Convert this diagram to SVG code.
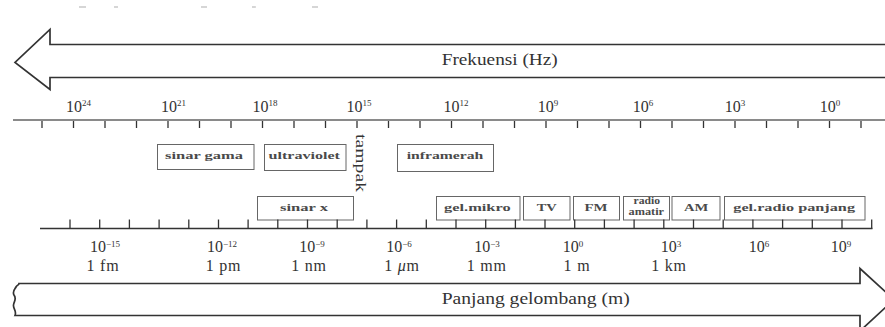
<svg xmlns="http://www.w3.org/2000/svg" width="885" height="327" viewBox="0 0 885 327" font-family="'Liberation Serif', 'Times New Roman', serif">
  <style>
    text { font-family: 'Liberation Serif', 'Times New Roman', serif; }
    .lbl { fill: #333; }
    .num { font-size: 16px; text-anchor: middle; }
    .sup { font-size: 9px; }
    .unit { font-size: 16px; text-anchor: middle; letter-spacing: 0.8px; }
    .title { font-size: 16px; }
    .boxt { font-size: 11px; font-weight: bold; fill: #4a4a4a; }
    .box { fill: #fff; stroke: #666; stroke-width: 1; }
    .arrow { fill: #fff; stroke: #333; stroke-width: 1.7; stroke-linejoin: miter; }
    .axis { stroke: #8a8a8a; stroke-width: 2; }
    .axis2 { stroke: #333; stroke-width: 1.6; }
    .tick { stroke: #333; stroke-width: 1.3; }
    .dash { stroke: #bbb; stroke-width: 1.2; }
  </style>

  <rect width="885" height="327" fill="#fff"/>

  <!-- faint remnants of a line of text above -->
  <g id="remnants">
    <line class="dash" x1="79" y1="7" x2="86" y2="7"/>
    <line class="dash" x1="114" y1="7" x2="118" y2="7"/>
    <line class="dash" x1="201" y1="7" x2="207" y2="7"/>
    <line class="dash" x1="252" y1="7" x2="256" y2="7"/>
    <line class="dash" x1="312" y1="7" x2="318" y2="7"/>
  </g>

  <!-- frequency arrow (pointing left) -->
  <g id="freq-arrow">
    <path class="arrow" d="M900,44.5 L50,44.5 L50,29.5 L15,62.5 L50,89.5 L50,77.5 L900,77.5"/>
    <text class="lbl title" x="441.7" y="65" textLength="116" lengthAdjust="spacingAndGlyphs">Frekuensi (Hz)</text>
  </g>

  <!-- frequency scale -->
  <g id="freq-scale">
    <line class="axis" x1="13" y1="120" x2="885" y2="120"/>
    <g id="freq-ticks">
      <line class="tick" x1="42" y1="121" x2="42" y2="128"/>
      <line class="tick" x1="73.5" y1="121" x2="73.5" y2="128"/>
      <line class="tick" x1="105" y1="121" x2="105" y2="128"/>
      <line class="tick" x1="136.5" y1="121" x2="136.5" y2="128"/>
      <line class="tick" x1="168" y1="121" x2="168" y2="128"/>
      <line class="tick" x1="199.5" y1="121" x2="199.5" y2="128"/>
      <line class="tick" x1="231" y1="121" x2="231" y2="128"/>
      <line class="tick" x1="262.5" y1="121" x2="262.5" y2="128"/>
      <line class="tick" x1="294" y1="121" x2="294" y2="128"/>
      <line class="tick" x1="325.5" y1="121" x2="325.5" y2="128"/>
      <line class="tick" x1="357" y1="121" x2="357" y2="128"/>
      <line class="tick" x1="388.5" y1="121" x2="388.5" y2="128"/>
      <line class="tick" x1="420" y1="121" x2="420" y2="128"/>
      <line class="tick" x1="451.5" y1="121" x2="451.5" y2="128"/>
      <line class="tick" x1="483" y1="121" x2="483" y2="128"/>
      <line class="tick" x1="514.5" y1="121" x2="514.5" y2="128"/>
      <line class="tick" x1="546" y1="121" x2="546" y2="128"/>
      <line class="tick" x1="577.5" y1="121" x2="577.5" y2="128"/>
      <line class="tick" x1="609" y1="121" x2="609" y2="128"/>
      <line class="tick" x1="640.5" y1="121" x2="640.5" y2="128"/>
      <line class="tick" x1="672" y1="121" x2="672" y2="128"/>
      <line class="tick" x1="703.5" y1="121" x2="703.5" y2="128"/>
      <line class="tick" x1="735" y1="121" x2="735" y2="128"/>
      <line class="tick" x1="766.5" y1="121" x2="766.5" y2="128"/>
      <line class="tick" x1="798" y1="121" x2="798" y2="128"/>
      <line class="tick" x1="829.5" y1="121" x2="829.5" y2="128"/>
      <line class="tick" x1="861" y1="121" x2="861" y2="128"/>
    </g>
    <g id="freq-labels" class="lbl">
      <text class="num" x="78.5" y="111.5">10<tspan class="sup" dy="-5.5">24</tspan></text>
      <text class="num" x="173.5" y="111.5">10<tspan class="sup" dy="-5.5">21</tspan></text>
      <text class="num" x="265" y="111.5">10<tspan class="sup" dy="-5.5">18</tspan></text>
      <text class="num" x="359" y="111.5">10<tspan class="sup" dy="-5.5">15</tspan></text>
      <text class="num" x="456" y="111.5">10<tspan class="sup" dy="-5.5">12</tspan></text>
      <text class="num" x="548" y="111.5">10<tspan class="sup" dy="-5.5">9</tspan></text>
      <text class="num" x="643" y="111.5">10<tspan class="sup" dy="-5.5">6</tspan></text>
      <text class="num" x="735" y="111.5">10<tspan class="sup" dy="-5.5">3</tspan></text>
      <text class="num" x="830" y="111.5">10<tspan class="sup" dy="-5.5">0</tspan></text>
    </g>
  </g>

  <!-- upper band of spectrum regions -->
  <g id="sinar-gama">
    <rect class="box" x="157.5" y="144.5" width="96.5" height="25"/>
    <text class="boxt" x="165" y="159" textLength="78" lengthAdjust="spacingAndGlyphs">sinar  gama</text>
  </g>
  <g id="ultraviolet">
    <rect class="box" x="264.5" y="144.5" width="81.5" height="26"/>
    <text class="boxt" x="268.5" y="159" textLength="71.5" lengthAdjust="spacingAndGlyphs">ultraviolet</text>
  </g>
  <g id="tampak">
    <text class="lbl" font-size="15" transform="translate(355.5,134) rotate(90)" x="0" y="0" textLength="58" lengthAdjust="spacingAndGlyphs">tampak</text>
  </g>
  <g id="inframerah">
    <rect class="box" x="397.5" y="144.5" width="96" height="27"/>
    <text class="boxt" x="406.7" y="159" textLength="76.6" lengthAdjust="spacingAndGlyphs">inframerah</text>
  </g>

  <!-- lower band of spectrum regions -->
  <g id="sinar-x">
    <rect class="box" x="257.5" y="196.5" width="96" height="23.5"/>
    <text class="boxt" x="280" y="211" textLength="48" lengthAdjust="spacingAndGlyphs">sinar  x</text>
  </g>
  <g id="gel-mikro">
    <rect class="box" x="436.5" y="196.5" width="83.5" height="23.5"/>
    <text class="boxt" x="444" y="211" textLength="66.7" lengthAdjust="spacingAndGlyphs">gel.mikro</text>
  </g>
  <g id="tv">
    <rect class="box" x="523.5" y="196.5" width="46.5" height="23.5"/>
    <text class="boxt" x="536.7" y="211" textLength="20" lengthAdjust="spacingAndGlyphs">TV</text>
  </g>
  <g id="fm">
    <rect class="box" x="573.5" y="196.5" width="46" height="23.5"/>
    <text class="boxt" x="584.5" y="211" textLength="23" lengthAdjust="spacingAndGlyphs">FM</text>
  </g>
  <g id="radio-amatir">
    <rect class="box" x="623.5" y="196.5" width="46" height="23.5"/>
    <text class="boxt" font-size="8" x="633.5" y="203.5" textLength="26.5" lengthAdjust="spacingAndGlyphs">radio</text>
    <text class="boxt" font-size="8" x="628.5" y="214.5" textLength="35.5" lengthAdjust="spacingAndGlyphs">amatir</text>
  </g>
  <g id="am">
    <rect class="box" x="672" y="196.5" width="48" height="23.5"/>
    <text class="boxt" x="684" y="211" textLength="24.3" lengthAdjust="spacingAndGlyphs">AM</text>
  </g>
  <g id="gel-radio-panjang">
    <rect class="box" x="724.5" y="196.5" width="140.5" height="23.5"/>
    <text class="boxt" x="733.3" y="211" textLength="121.7" lengthAdjust="spacingAndGlyphs">gel.radio  panjang</text>
  </g>

  <!-- wavelength scale -->
  <g id="wave-scale">
    <line class="axis2" x1="40" y1="228.5" x2="872.5" y2="228.5"/>
    <g id="wave-ticks">
      <line class="tick" x1="70" y1="219.5" x2="70" y2="228.5"/>
      <line class="tick" x1="99.7" y1="219.5" x2="99.7" y2="228.5"/>
      <line class="tick" x1="129.4" y1="219.5" x2="129.4" y2="228.5"/>
      <line class="tick" x1="159.1" y1="219.5" x2="159.1" y2="228.5"/>
      <line class="tick" x1="188.8" y1="219.5" x2="188.8" y2="228.5"/>
      <line class="tick" x1="218.5" y1="219.5" x2="218.5" y2="228.5"/>
      <line class="tick" x1="248.1" y1="219.5" x2="248.1" y2="228.5"/>
      <line class="tick" x1="277.8" y1="219.5" x2="277.8" y2="228.5"/>
      <line class="tick" x1="307.5" y1="219.5" x2="307.5" y2="228.5"/>
      <line class="tick" x1="337.2" y1="219.5" x2="337.2" y2="228.5"/>
      <line class="tick" x1="366.9" y1="219.5" x2="366.9" y2="228.5"/>
      <line class="tick" x1="396.6" y1="219.5" x2="396.6" y2="228.5"/>
      <line class="tick" x1="426.3" y1="219.5" x2="426.3" y2="228.5"/>
      <line class="tick" x1="456" y1="219.5" x2="456" y2="228.5"/>
      <line class="tick" x1="485.7" y1="219.5" x2="485.7" y2="228.5"/>
      <line class="tick" x1="515.4" y1="219.5" x2="515.4" y2="228.5"/>
      <line class="tick" x1="545" y1="219.5" x2="545" y2="228.5"/>
      <line class="tick" x1="574.7" y1="219.5" x2="574.7" y2="228.5"/>
      <line class="tick" x1="604.4" y1="219.5" x2="604.4" y2="228.5"/>
      <line class="tick" x1="634.1" y1="219.5" x2="634.1" y2="228.5"/>
      <line class="tick" x1="663.8" y1="219.5" x2="663.8" y2="228.5"/>
      <line class="tick" x1="693.5" y1="219.5" x2="693.5" y2="228.5"/>
      <line class="tick" x1="723.2" y1="219.5" x2="723.2" y2="228.5"/>
      <line class="tick" x1="752.9" y1="219.5" x2="752.9" y2="228.5"/>
      <line class="tick" x1="782.6" y1="219.5" x2="782.6" y2="228.5"/>
      <line class="tick" x1="812.3" y1="219.5" x2="812.3" y2="228.5"/>
      <line class="tick" x1="842" y1="219.5" x2="842" y2="228.5"/>
      <line class="tick" x1="871.7" y1="219.5" x2="871.7" y2="228.5"/>
    </g>
    <g id="wave-labels" class="lbl">
      <text class="num" x="105" y="252">10<tspan class="sup" dy="-5.5">−15</tspan></text>
      <text class="num" x="222" y="252">10<tspan class="sup" dy="-5.5">−12</tspan></text>
      <text class="num" x="312" y="252">10<tspan class="sup" dy="-5.5">−9</tspan></text>
      <text class="num" x="399" y="252">10<tspan class="sup" dy="-5.5">−6</tspan></text>
      <text class="num" x="487" y="252">10<tspan class="sup" dy="-5.5">−3</tspan></text>
      <text class="num" x="573" y="252">10<tspan class="sup" dy="-5.5">0</tspan></text>
      <text class="num" x="671" y="252">10<tspan class="sup" dy="-5.5">3</tspan></text>
      <text class="num" x="759" y="252">10<tspan class="sup" dy="-5.5">6</tspan></text>
      <text class="num" x="841" y="252">10<tspan class="sup" dy="-5.5">9</tspan></text>
      <text class="unit" x="103" y="271">1 fm</text>
      <text class="unit" x="223.5" y="271">1 pm</text>
      <text class="unit" x="309" y="271">1 nm</text>
      <text class="unit" x="402" y="271">1 <tspan font-style="italic">μ</tspan>m</text>
      <text class="unit" x="486.7" y="271">1 mm</text>
      <text class="unit" x="577" y="271">1 m</text>
      <text class="unit" x="669" y="271">1 km</text>
    </g>
  </g>

  <!-- wavelength arrow (pointing right, broken at the left end) -->
  <g id="wave-arrow">
    <path class="arrow" d="M19,283.5 L860,283.5 L860,268.5 L894,299.5 L860,331 L860,315.5 L15,315.5 C17,311 13,309 13.5,305 C14,301 17,299 14,295 C12,291 15,289 16,287 C17,285 19,285 19,283.5 Z"/>
    <text class="lbl title" x="441.7" y="303.5" textLength="188" lengthAdjust="spacingAndGlyphs">Panjang gelombang (m)</text>
  </g>
</svg>
